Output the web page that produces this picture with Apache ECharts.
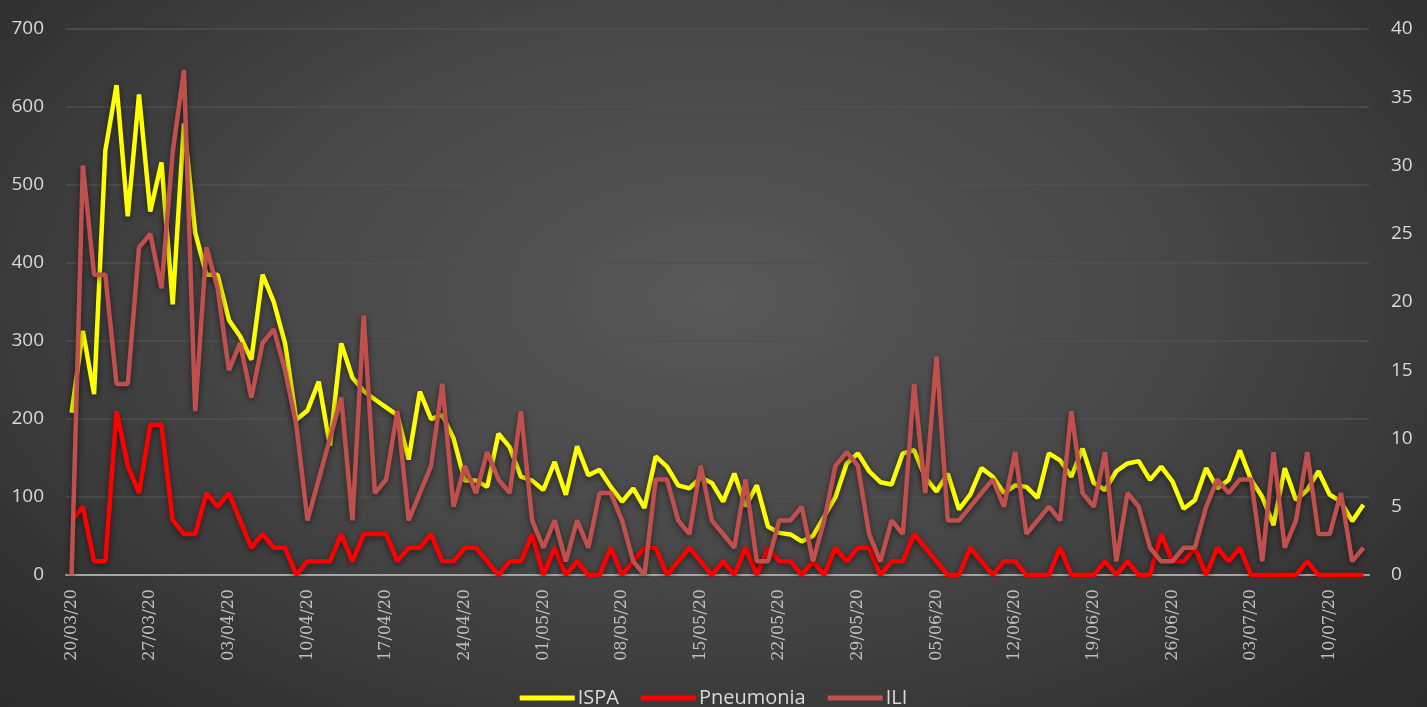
<!DOCTYPE html>
<html>
<head>
<meta charset="utf-8">
<script src="https://cdn.jsdelivr.net/npm/echarts@6/dist/echarts.min.js"></script>
<style>
  html, body { margin: 0; padding: 0; }
  body {
    width: 1427px; height: 707px; overflow: hidden;
    background: radial-gradient(ellipse 75% 90% at 50% 42%, #585858 0%, #464646 45%, #2e2e2e 85%, #2a2a2a 100%);
  }
  #chart { width: 1427px; height: 707px; }
</style>
</head>
<body>
<div id="chart"></div>
<script>
// daily counts, 20/03/20 .. 13/07/20
const dates = [
  '20/03/20','21/03/20','22/03/20','23/03/20','24/03/20','25/03/20','26/03/20','27/03/20','28/03/20','29/03/20','30/03/20','31/03/20',
  '01/04/20','02/04/20','03/04/20','04/04/20','05/04/20','06/04/20','07/04/20','08/04/20','09/04/20','10/04/20',
  '11/04/20','12/04/20','13/04/20','14/04/20','15/04/20','16/04/20','17/04/20','18/04/20','19/04/20','20/04/20',
  '21/04/20','22/04/20','23/04/20','24/04/20','25/04/20','26/04/20','27/04/20','28/04/20','29/04/20','30/04/20',
  '01/05/20','02/05/20','03/05/20','04/05/20','05/05/20','06/05/20','07/05/20','08/05/20','09/05/20','10/05/20',
  '11/05/20','12/05/20','13/05/20','14/05/20','15/05/20','16/05/20','17/05/20','18/05/20','19/05/20','20/05/20',
  '21/05/20','22/05/20','23/05/20','24/05/20','25/05/20','26/05/20','27/05/20','28/05/20','29/05/20','30/05/20','31/05/20',
  '01/06/20','02/06/20','03/06/20','04/06/20','05/06/20','06/06/20','07/06/20','08/06/20','09/06/20','10/06/20',
  '11/06/20','12/06/20','13/06/20','14/06/20','15/06/20','16/06/20','17/06/20','18/06/20','19/06/20','20/06/20',
  '21/06/20','22/06/20','23/06/20','24/06/20','25/06/20','26/06/20','27/06/20','28/06/20','29/06/20','30/06/20',
  '01/07/20','02/07/20','03/07/20','04/07/20','05/07/20','06/07/20','07/07/20','08/07/20','09/07/20','10/07/20',
  '11/07/20','12/07/20','13/07/20'
];

const ispa = [
  208,313,232,544,628,460,616,466,529,347,
  579,439,385,385,327,306,276,385,350,297,
  199,211,248,166,297,253,236,225,215,205,
  148,235,200,205,175,121,121,113,181,164,
  126,121,109,145,103,165,128,135,113,94,
  111,86,152,139,115,111,125,118,94,130,
  88,115,62,54,52,43,50,75,100,143,
  156,133,119,116,156,160,125,107,130,84,
  103,137,126,105,115,113,99,156,147,126,
  162,118,109,133,143,146,122,139,120,85,
  96,137,111,122,160,122,100,64,137,96,
  109,133,103,94,69,90
];

const pneumonia = [
  4,5,1,1,12,8,6,11,11,4,
  3,3,6,5,6,4,2,3,2,2,
  0,1,1,1,3,1,3,3,3,1,
  2,2,3,1,1,2,2,1,0,1,
  1,3,0,2,0,1,0,0,2,0,
  1,2,2,0,1,2,1,0,1,0,
  2,0,2,1,1,0,1,0,2,1,
  2,2,0,1,1,3,2,1,0,0,
  2,1,0,1,1,0,0,0,2,0,
  0,0,1,0,1,0,0,3,1,1,
  2,0,2,1,2,0,0,0,0,0,
  1,0,0,0,0,0
];

const ili = [
  0,30,22,22,14,14,24,25,21,31,
  37,12,24,21,15,17,13,17,18,15,
  11,4,7,10,13,4,19,6,7,12,
  4,6,8,14,5,8,6,9,7,6,
  12,4,2,4,1,4,2,6,6,4,
  1,0,7,7,4,3,8,4,3,2,
  7,1,1,4,4,5,1,4,8,9,
  8,3,1,4,3,14,6,16,4,4,
  5,6,7,5,9,3,4,5,4,12,
  6,5,9,1,6,5,2,1,1,2,
  2,5,7,6,7,7,1,9,2,4,
  9,3,3,6,1,2
];

const chart = echarts.init(document.getElementById('chart'));

function lineSeries(name, data, color, axis) {
    return {
        name: name, type: 'line', data: data, yAxisIndex: axis,
        symbol: 'none', smooth: false,
        lineStyle: { width: 4.5, color: color, shadowColor: 'rgba(0,0,0,0.55)', shadowBlur: 6, shadowOffsetY: 2 },
        itemStyle: { color: color }
    };
}

const option = {
    backgroundColor: 'transparent',
    animation: false,
    grid: { left: 66, right: 58, top: 29, bottom: 132 },
    legend: {
        top: 683, left: 'center', icon: 'rect', itemWidth: 55, itemHeight: 5, itemGap: 22,
        textStyle: { color: '#d9d9d9', fontSize: 20, fontFamily: 'Liberation Sans Narrow, Open Sans, sans-serif', padding: [0, 0, 0, -2] },
        data: ['ISPA', 'Pneumonia', 'ILI']
    },
    xAxis: {
        type: 'category', data: dates, boundaryGap: true,
        axisLine: { lineStyle: { color: '#a6a6a6', width: 2 } },
        axisTick: { show: false },
        axisLabel: { interval: 6, rotate: 90, color: '#bfbfbf', fontSize: 16, fontFamily: '"DejaVu Serif", "Liberation Serif", serif', margin: 14 }
    },
    yAxis: [
        {
            type: 'value', min: 0, max: 700, interval: 100,
            axisLine: { show: false }, axisTick: { show: false },
            axisLabel: { color: '#d9d9d9', fontSize: 19, fontFamily: 'Open Sans, sans-serif', margin: 22 },
            splitLine: { lineStyle: { color: '#505050', width: 1.5 } }
        },
        {
            type: 'value', min: 0, max: 40, interval: 5,
            axisLine: { show: false }, axisTick: { show: false },
            axisLabel: { color: '#d9d9d9', fontSize: 19, fontFamily: 'Open Sans, sans-serif', margin: 22 },
            splitLine: { show: false }
        }
    ],
    series: [
        lineSeries('ISPA', ispa, '#ffff00', 0),
        lineSeries('Pneumonia', pneumonia, '#ff0000', 1),
        lineSeries('ILI', ili, '#c0504d', 1)
    ]
};

chart.setOption(option);
</script>
</body>
</html>
